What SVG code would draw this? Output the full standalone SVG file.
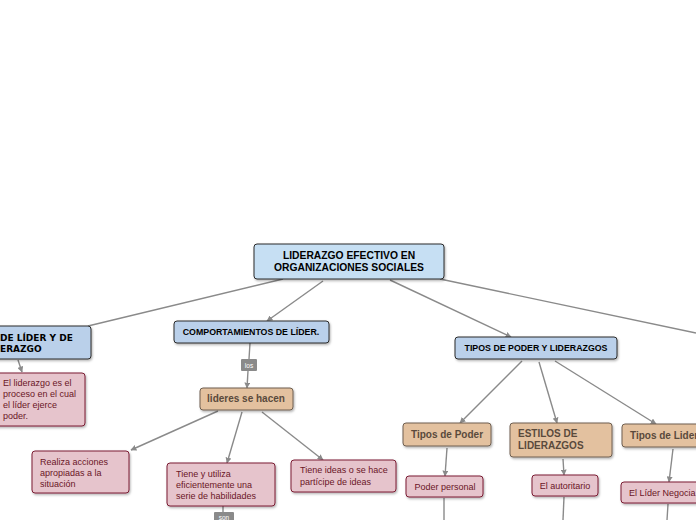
<svg xmlns="http://www.w3.org/2000/svg" width="696" height="520" viewBox="0 0 696 520">
<defs>
<marker id="ah" viewBox="0 0 10 10" refX="9" refY="5" markerWidth="6" markerHeight="6" orient="auto" markerUnits="userSpaceOnUse"><path d="M0,0 L10,5 L0,10 z" fill="#8a8a8a"/></marker>
<filter id="sh" x="-10%" y="-10%" width="130%" height="150%"><feDropShadow dx="1" dy="1.5" stdDeviation="1" flood-color="#000" flood-opacity="0.3"/></filter>
<style>
.c{stroke:#8a8a8a;stroke-width:1.4;fill:none}
.ca{stroke:#8a8a8a;stroke-width:1.4;fill:none;marker-end:url(#ah)}
.root{fill:#c6dff3;stroke:#2a2a2a;stroke-width:1;filter:url(#sh)}
.blue{fill:#bad0ea;stroke:#2a2a2a;stroke-width:1;filter:url(#sh)}
.tan{fill:#e3c19f;stroke:#6e5e50;stroke-width:1;filter:url(#sh)}
.pink{fill:#e6c4cc;stroke:#7a1c32;stroke-width:1;filter:url(#sh)}
.lab{fill:#8a8a8a}
.tb{font-family:"Liberation Sans",Arial,sans-serif;font-weight:bold;fill:#000}
.tt{font-family:"Liberation Sans",Arial,sans-serif;font-weight:bold;fill:#5a4a3c;font-size:10px}
.tp{font-family:"Liberation Sans",Arial,sans-serif;fill:#6a1526;font-size:9px}
.tl{font-family:"Liberation Sans",Arial,sans-serif;fill:#fff;font-size:6.5px}
</style>
</defs>
<g id="connectors">
<line class="c" x1="283" y1="279" x2="88" y2="326"/>
<line class="ca" x1="323" y1="281" x2="267" y2="321"/>
<line class="ca" x1="390" y1="280" x2="511" y2="337"/>
<line class="c" x1="440" y1="279" x2="696" y2="333"/>
<line class="ca" x1="18" y1="360" x2="22" y2="372"/>
<line class="c" x1="250" y1="343" x2="249" y2="359"/>
<line class="ca" x1="248" y1="371" x2="247" y2="388"/>
<line class="ca" x1="218" y1="411" x2="131" y2="450"/>
<line class="ca" x1="242" y1="412" x2="227" y2="463"/>
<line class="ca" x1="262" y1="412" x2="323" y2="460"/>
<line class="c" x1="223" y1="506" x2="223" y2="512"/>
<line class="ca" x1="522" y1="361" x2="460" y2="423"/>
<line class="ca" x1="539" y1="362" x2="557" y2="423"/>
<line class="ca" x1="555" y1="361" x2="656" y2="424"/>
<line class="ca" x1="447" y1="448" x2="445" y2="476"/>
<line class="c" x1="444" y1="498" x2="444" y2="520"/>
<line class="ca" x1="563" y1="459" x2="564" y2="475"/>
<line class="c" x1="564" y1="497" x2="563" y2="520"/>
<line class="ca" x1="673" y1="449" x2="669" y2="482"/>
<line class="c" x1="668" y1="504" x2="667" y2="520"/>
</g>
<g id="root">
<rect class="root" x="254" y="244" width="190" height="35" rx="3"/>
<text class="tb" font-size="10.3" text-anchor="middle" x="349" y="259">LIDERAZGO EFECTIVO EN</text>
<text class="tb" font-size="10.3" text-anchor="middle" x="349" y="271">ORGANIZACIONES SOCIALES</text>
</g>
<g id="concepto">
<rect class="blue" x="-10" y="326" width="101" height="33" rx="3"/>
<text font-family="'DejaVu Sans',Verdana,sans-serif" font-weight="bold" font-size="9" x="0" y="341">DE LÍDER Y DE</text>
<text font-family="'DejaVu Sans',Verdana,sans-serif" font-weight="bold" font-size="9" x="0" y="352">ERAZGO</text>
</g>
<g id="def">
<rect class="pink" x="-10" y="373" width="95" height="53" rx="3"/>
<text class="tp" x="3" y="386">El liderazgo es el</text>
<text class="tp" x="3" y="397">proceso en el cual</text>
<text class="tp" x="3" y="408">el líder ejerce</text>
<text class="tp" x="3" y="419">poder.</text>
</g>
<g id="comport">
<rect class="blue" x="174" y="321" width="155" height="22" rx="3"/>
<text class="tb" font-size="8.8" text-anchor="middle" x="251" y="335">COMPORTAMIENTOS DE LÍDER.</text>
</g>
<g id="los">
<rect class="lab" x="241" y="359" width="16" height="12" rx="1"/>
<text class="tl" text-anchor="middle" x="249" y="367.5">los</text>
</g>
<g id="lideres">
<rect class="tan" x="200" y="388" width="93" height="22" rx="3"/>
<text class="tt" text-anchor="middle" x="246" y="402">lideres se hacen</text>
</g>
<g id="realiza">
<rect class="pink" x="32" y="451" width="97" height="42" rx="3"/>
<text class="tp" x="40" y="465">Realiza acciones</text>
<text class="tp" x="40" y="476">apropiadas a la</text>
<text class="tp" x="40" y="487">situación</text>
</g>
<g id="tiene">
<rect class="pink" x="167" y="463" width="108" height="43" rx="3"/>
<text class="tp" x="176" y="477">Tiene y utiliza</text>
<text class="tp" x="176" y="488">eficientemente una</text>
<text class="tp" x="176" y="499">serie de habilidades</text>
</g>
<g id="son">
<rect class="lab" x="214" y="512" width="20" height="10" rx="1"/>
<text class="tl" text-anchor="middle" x="224" y="519.5">son</text>
</g>
<g id="ideas">
<rect class="pink" x="291" y="460" width="105" height="32" rx="3"/>
<text class="tp" x="300" y="473">Tiene ideas o se hace</text>
<text class="tp" x="300" y="485">partícipe de ideas</text>
</g>
<g id="tipos">
<rect class="blue" x="455" y="337" width="162" height="22" rx="3"/>
<text class="tb" font-size="8.8" text-anchor="middle" x="536" y="351">TIPOS DE PODER Y LIDERAZGOS</text>
</g>
<g id="tpoder">
<rect class="tan" x="403" y="423" width="88" height="23" rx="3"/>
<text class="tt" text-anchor="middle" x="447" y="438">Tipos de Poder</text>
</g>
<g id="estilos">
<rect class="tan" x="510" y="423" width="102" height="34" rx="3"/>
<text class="tt" x="518" y="437">ESTILOS DE</text>
<text class="tt" x="518" y="449">LIDERAZGOS</text>
</g>
<g id="tlider">
<rect class="tan" x="622" y="424" width="84" height="23" rx="3"/>
<text class="tt" x="630" y="439">Tipos de Lider</text>
</g>
<g id="ppersonal">
<rect class="pink" x="406" y="476" width="77" height="21" rx="3"/>
<text class="tp" text-anchor="middle" x="445" y="490">Poder personal</text>
</g>
<g id="autoritario">
<rect class="pink" x="532" y="475" width="66" height="21" rx="3"/>
<text class="tp" text-anchor="middle" x="565" y="489">El autoritario</text>
</g>
<g id="negocia">
<rect class="pink" x="621" y="482" width="85" height="21" rx="3"/>
<text class="tp" x="629" y="496">El Líder Negocia</text>
</g>
</svg>
